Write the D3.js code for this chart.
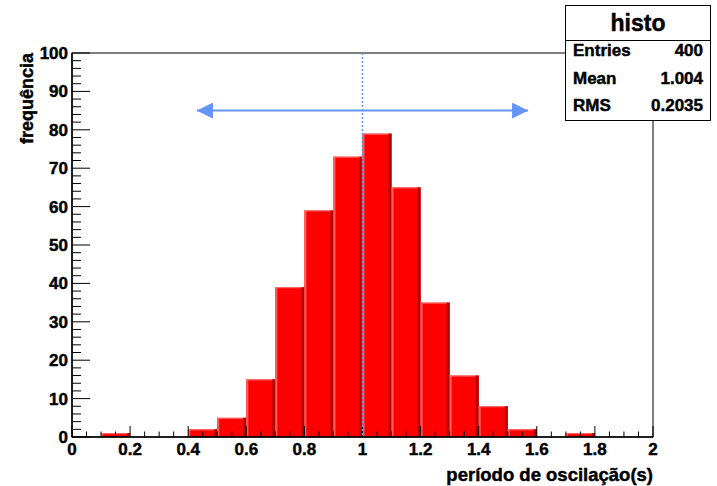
<!DOCTYPE html>
<html>
<head>
<meta charset="UTF-8">
<title>histo</title>
<style>
  body { margin: 0; background: #fff; }
  text { font-family: "Liberation Sans", Arial, sans-serif; font-weight: bold; fill: #000; stroke: #000; stroke-width: 0.45px; }
</style>
</head>
<body>
<div id="svg"></div>
<script src="https://d3js.org/d3.v7.min.js"></script>
<script>
// bin lower edges (width 0.1) and counts
var binStart = [0.1, 0.4, 0.5, 0.6, 0.7, 0.8, 0.9, 1.0, 1.1, 1.2, 1.3, 1.4, 1.5, 1.7];
var counts   = [1,   2,   5,   15,  39,  59,  73,  79,  65,  35,  16,  8,   2,   1];
var binWidth = 0.1;
var xTicks = [0, 0.2, 0.4, 0.6, 0.8, 1, 1.2, 1.4, 1.6, 1.8, 2];
var yTicks = [0, 10, 20, 30, 40, 50, 60, 70, 80, 90, 100];
var statNames = ["Entries", "Mean", "RMS"];
var statValues = ["400", "1.004", "0.2035"];
var meanValue = 1.0;
var arrowRange = [0.43, 1.57];
var arrowLevel = 85;

var width = 717, height = 486;
var margin = { top: 53, right: 64, bottom: 49, left: 72 };

var svg = d3.select("#svg").append("svg")
    .attr("width", width)
    .attr("height", height);

var x = d3.scaleLinear().domain([0, 2]).range([margin.left, width - margin.right]);
var y = d3.scaleLinear().domain([0, 100]).range([height - margin.bottom, margin.top]);

var plotH = y(0) - y(100);
var plotW = x(2) - x(0);

// bars
var bars = svg.append("g").selectAll("g")
    .data(binStart.map(function(d, i) { return { x0: d, n: counts[i] }; }))
    .join("g");

bars.append("rect")
    .attr("x", d => x(d.x0))
    .attr("y", d => y(d.n))
    .attr("width", d => x(d.x0 + binWidth) - x(d.x0))
    .attr("height", d => y(0) - y(d.n))
    .attr("fill", "#ff0000");
bars.append("rect")
    .attr("x", d => x(d.x0))
    .attr("y", d => y(d.n))
    .attr("width", 2)
    .attr("height", d => y(0) - y(d.n))
    .attr("fill", "#ff5a5a");
bars.append("rect")
    .attr("x", d => x(d.x0))
    .attr("y", d => y(d.n))
    .attr("width", d => x(d.x0 + binWidth) - x(d.x0))
    .attr("height", 1)
    .attr("fill", "#ff7070");
bars.append("rect")
    .attr("x", d => x(d.x0 + binWidth) - 3)
    .attr("y", d => y(d.n))
    .attr("width", 3)
    .attr("height", d => y(0) - y(d.n))
    .attr("fill", "#b00000");

// frame
svg.append("rect")
    .attr("x", x(0)).attr("y", y(100))
    .attr("width", plotW).attr("height", plotH)
    .attr("fill", "none").attr("stroke", "#000").attr("stroke-width", 1);

// x axis ticks (drawn inward)
var xMinor = d3.range(0, 2.0001, 0.05);
svg.append("g").selectAll("line").data(xMinor).join("line")
    .attr("x1", d => x(d)).attr("x2", d => x(d))
    .attr("y1", y(0))
    .attr("y2", d => y(0) - (Math.abs(d / 0.2 - Math.round(d / 0.2)) < 1e-6 ? 11 : 5.5))
    .attr("stroke", "#000");
svg.append("line")
    .attr("x1", x(0)).attr("x2", x(2)).attr("y1", y(0)).attr("y2", y(0))
    .attr("stroke", "#000").attr("stroke-width", 1.5);
svg.append("g").selectAll("text").data(xTicks).join("text")
    .attr("x", d => x(d)).attr("y", y(0) + 18)
    .attr("text-anchor", "middle")
    .style("font-size", "17px")
    .text(d => d3.format("")(d));

// y axis ticks
var yMinor = d3.range(0, 100.001, 2);
svg.append("g").selectAll("line").data(yMinor).join("line")
    .attr("x1", x(0))
    .attr("x2", d => x(0) + (d % 10 === 0 ? 18 : 9))
    .attr("y1", d => y(d)).attr("y2", d => y(d))
    .attr("stroke", "#000");
svg.append("line")
    .attr("x1", x(0)).attr("x2", x(0)).attr("y1", y(0)).attr("y2", y(100))
    .attr("stroke", "#000").attr("stroke-width", 1.5);
svg.append("g").selectAll("text").data(yTicks).join("text")
    .attr("x", x(0) - 4).attr("y", d => y(d) + 6)
    .attr("text-anchor", "end")
    .style("font-size", "17px")
    .text(d => d);

// axis titles
svg.append("text")
    .attr("x", x(2)).attr("y", 481)
    .attr("text-anchor", "end")
    .style("font-size", "18.5px")
    .text("período de oscilação(s)");
svg.append("text")
    .attr("transform", "translate(33," + y(100) + ") rotate(-90)")
    .attr("text-anchor", "end")
    .style("font-size", "18px")
    .text("frequência");

// mean line
svg.append("line")
    .attr("x1", x(meanValue)).attr("x2", x(meanValue))
    .attr("y1", y(100)).attr("y2", y(0))
    .attr("stroke", "#6495f5").attr("stroke-width", 1.5)
    .attr("stroke-dasharray", "2,2");

// double arrow
var defs = svg.append("defs");
defs.append("marker")
    .attr("id", "ah")
    .attr("viewBox", "0 0 10 10")
    .attr("refX", 10).attr("refY", 5)
    .attr("markerUnits", "userSpaceOnUse")
    .attr("markerWidth", 16).attr("markerHeight", 16)
    .attr("orient", "auto-start-reverse")
    .append("path").attr("d", "M0,0 L10,5 L0,10 Z").attr("fill", "#6495f5");
svg.append("line")
    .attr("x1", x(arrowRange[0])).attr("x2", x(arrowRange[1]))
    .attr("y1", y(arrowLevel)).attr("y2", y(arrowLevel))
    .attr("stroke", "#6495f5").attr("stroke-width", 2)
    .attr("marker-start", "url(#ah)").attr("marker-end", "url(#ah)");

// stats box
var box = svg.append("g");
box.append("rect")
    .attr("x", 565.5).attr("y", 5.5).attr("width", 145).attr("height", 115)
    .attr("fill", "#fff").attr("stroke", "#000");
box.append("line")
    .attr("x1", 565.5).attr("x2", 710.5).attr("y1", 40.5).attr("y2", 40.5)
    .attr("stroke", "#000");
box.append("text")
    .attr("x", 638).attr("y", 31)
    .attr("text-anchor", "middle")
    .style("font-size", "23px")
    .text("histo");
box.selectAll("text.sn").data(statNames).join("text")
    .attr("class", "sn")
    .attr("x", 573).attr("y", (d, i) => [56, 84, 111][i])
    .style("font-size", "17px")
    .text(d => d);
box.selectAll("text.sv").data(statValues).join("text")
    .attr("class", "sv")
    .attr("x", 703).attr("y", (d, i) => [56, 84, 111][i])
    .attr("text-anchor", "end")
    .style("font-size", "17px")
    .text(d => d);
</script>
</body>
</html>
